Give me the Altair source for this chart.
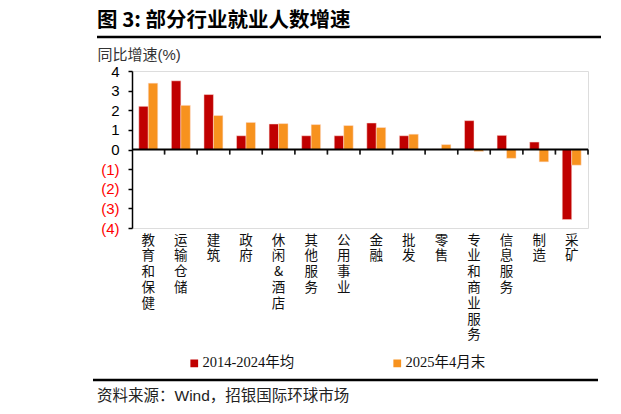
import altair as alt
import pandas as pd

categories = ["教育和保健", "运输仓储", "建筑", "政府", "休闲&酒店", "其他服务", "公用事业",
              "金融", "批发", "零售", "专业和商业服务", "信息服务", "制造", "采矿"]
avg_2014_2024 = [2.2, 3.5, 2.8, 0.7, 1.3, 0.7, 0.7, 1.35, 0.7, 0.02, 1.47, 0.72, 0.38, -3.57]
apr_2025 = [3.38, 2.25, 1.73, 1.38, 1.32, 1.27, 1.22, 1.12, 0.78, 0.25, -0.1, -0.45, -0.63, -0.8]
series_names = ["2014-2024年均", "2025年4月末"]
series_colors = ["#C00000", "#F7921E"]
y_ticks = [-4, -3, -2, -1, 0, 1, 2, 3, 4]

title_text = "图 3: 部分行业就业人数增速"
y_title = "同比增速(%)"
source_text = "资料来源：Wind，招银国际环球市场"

rows = []
for c, a, b in zip(categories, avg_2014_2024, apr_2025):
    rows.append({"cat": c, "series": series_names[0], "value": a})
    rows.append({"cat": c, "series": series_names[1], "value": b})
df = pd.DataFrame(rows)
one = pd.DataFrame({"k": [0]})

W, H = 456, 157
CJK = "Noto Sans CJK SC"
SERIF = "Liberation Serif, Noto Sans CJK SC"
SANS = "Liberation Sans, Noto Sans CJK SC"

x_scale = alt.Scale(paddingInner=0, paddingOuter=0)
x_axis = alt.Axis(title=None, domain=False, ticks=False, labelAngle=0,
                  labelExpr="split(datum.label, '')", labelFont=CJK,
                  labelFontSize=13.5, labelLineHeight=15.8, labelColor="#111",
                  labelBaseline="top", labelAlign="center", labelPadding=5,
                  labelOverlap=False, labelLimit=300)

y_scale = alt.Scale(domain=[-4, 4], nice=False, zero=False)
y_axis = alt.Axis(values=y_ticks, tickCount=9, grid=False, domainColor="black", domainWidth=1.5,
                  tickColor="black", tickWidth=1.5, tickSize=4, labelPadding=9,
                  labelOverlap=False, labelBound=False, labelFlush=False,
                  labelFont="Liberation Sans", labelFontSize=15,
                  labelExpr="datum.value < 0 ? '(' + abs(datum.value) + ')' : datum.value + '\u00a0'",
                  labelColor=alt.expr("datum.value < 0 ? '#FF0000' : '#000000'"),
                  title=y_title, titleAngle=0, titleAlign="left", titleBaseline="middle",
                  titleX=-35, titleY=-17, titleFont=SANS, titleFontSize=15,
                  titleFontWeight="normal", titleColor="#333")

bars = alt.Chart(df).mark_bar(stroke="#fde0d8", strokeWidth=0.5).encode(
    x=alt.X("cat:N", sort=categories, scale=x_scale, axis=x_axis),
    xOffset=alt.XOffset("series:N", sort=series_names,
                        scale=alt.Scale(domain=series_names, paddingOuter=0.72, paddingInner=0)),
    y=alt.Y("value:Q", scale=y_scale, axis=y_axis),
    color=alt.Color("series:N", sort=series_names,
                    scale=alt.Scale(domain=series_names, range=series_colors),
                    legend=alt.Legend(title=None, orient="none", direction="horizontal",
                                      legendX=55, legendY=285, symbolType="square",
                                      symbolSize=60, symbolStrokeWidth=0, labelFont=SERIF,
                                      labelFontSize=14.5, labelColor="#111", symbolOffset=0,
                                      labelOffset=1, columnPadding=95)),
)

zero_line = alt.Chart(one).mark_rule(color="black", strokeWidth=2).encode(
    y=alt.YDatum(0, scale=y_scale, axis=y_axis))

ticks = alt.Chart(df).mark_tick(color="black", orient="vertical", size=5, thickness=1.5,
                                yOffset=2.5).encode(
    x=alt.X("cat:N", sort=categories, bandPosition=1, scale=x_scale, axis=x_axis),
    y=alt.YDatum(0, scale=y_scale, axis=y_axis),
)

title_mark = alt.Chart(one).mark_text(text=title_text, font=CJK, fontSize=20.5, fontWeight="bold",
                                      align="left", baseline="middle", color="#000").encode(
    x=alt.value(-35), y=alt.value(-50))
top_rule = alt.Chart(one).mark_rule(color="black", strokeWidth=2.5).encode(
    x=alt.value(-35), x2=alt.value(469), y=alt.value(-34))
top_rule2 = alt.Chart(one).mark_rule(color="black", strokeWidth=2.5).encode(
    x=alt.value(482), x2=alt.value(500), y=alt.value(-34))
bottom_rule = alt.Chart(one).mark_rule(color="black", strokeWidth=2.5).encode(
    x=alt.value(-39), x2=alt.value(466), y=alt.value(309))
bottom_rule2 = alt.Chart(one).mark_rule(color="black", strokeWidth=2.5).encode(
    x=alt.value(482), x2=alt.value(500), y=alt.value(309))
source_mark = alt.Chart(one).mark_text(text=source_text, font=SANS, fontSize=15.5,
                                       align="left", baseline="middle", color="#222").encode(
    x=alt.value(-35), y=alt.value(325))

chart = alt.layer(bars, zero_line, ticks, title_mark, top_rule, top_rule2, bottom_rule,
                  bottom_rule2, source_mark).properties(
    width=W, height=H,
    autosize=alt.AutoSizeParams(type="none"),
    padding={"left": 124, "top": 63, "right": 25, "bottom": 178},
).configure_view(stroke=None).configure(background="white")

chart.save("out.html", embed_options={"renderer": "svg", "actions": False})
